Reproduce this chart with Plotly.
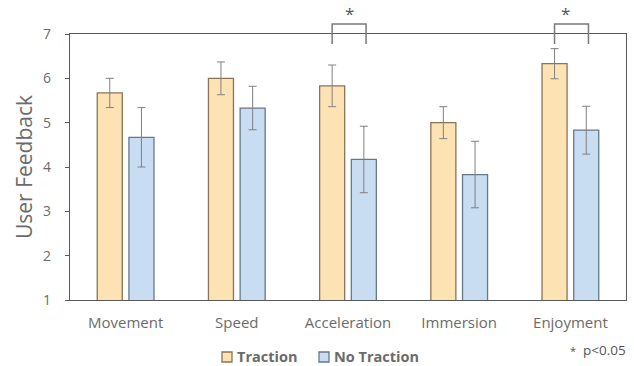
import plotly.graph_objects as go

# Questionnaire results per category (mean score and standard error)
categories = ["Movement", "Speed", "Acceleration", "Immersion", "Enjoyment"]
traction_mean = [5.67, 6.00, 5.83, 5.00, 6.33]
traction_err = [0.33, 0.37, 0.47, 0.36, 0.34]
no_traction_mean = [4.67, 5.33, 4.17, 3.83, 4.83]
no_traction_err = [0.67, 0.49, 0.75, 0.75, 0.54]
significant = ["Acceleration", "Enjoyment"]
y_ticks = [1, 2, 3, 4, 5, 6, 7]

FONT = "Open Sans"
TEXT = "#6b6b6b"
AXIS = "#5a5a5a"
ORANGE_FILL, ORANGE_LINE = "#fde2b4", "#8a7458"
BLUE_FILL, BLUE_LINE = "#c8dcf2", "#66788c"

fig = go.Figure()
fig.add_bar(
    x=categories, y=traction_mean, name="Traction",
    marker=dict(color=ORANGE_FILL, line=dict(color=ORANGE_LINE, width=1.3)),
    error_y=dict(type="data", array=traction_err, color="#808080", thickness=1, width=4),
)
fig.add_bar(
    x=categories, y=no_traction_mean, name="No Traction",
    marker=dict(color=BLUE_FILL, line=dict(color=BLUE_LINE, width=1.3)),
    error_y=dict(type="data", array=no_traction_err, color="#808080", thickness=1, width=4),
)

n = len(categories)
bargap, bargroupgap = 0.43, 0.21
half_slot = (1 - bargap) / 4  # offset of each bar centre from the category centre

# significance brackets above the plot frame
for cat in significant:
    i = categories.index(cat)
    x0 = (i + 0.5 - half_slot) / n
    x1 = (i + 0.5 + half_slot + 0.02) / n
    fig.add_shape(
        type="path", xref="paper", yref="paper",
        path=f"M {x0} 0.962 L {x0} 1.038 L {x1} 1.038 L {x1} 0.962",
        line=dict(color="#7a7a7a", width=1.5),
    )
    fig.add_annotation(
        x=(x0 + x1) / 2, y=1.077, xref="paper", yref="paper", text="*",
        showarrow=False, font=dict(family=FONT, size=17, color="#555555"),
        yanchor="middle",
    )

# legend drawn as swatches + bold labels
legend_items = [("Traction", ORANGE_FILL, ORANGE_LINE, 222),
                ("No Traction", BLUE_FILL, BLUE_LINE, 319)]
W, H = 634, 366
ml, mr, mt, mb = 70, 8, 34, 66
pw, ph = W - ml - mr, H - mt - mb
for label, fill, line, px in legend_items:
    xa = (px - ml) / pw
    xb = (px + 10 - ml) / pw
    yc = (H - mb - 357) / ph
    fig.add_shape(type="rect", xref="paper", yref="paper",
                  x0=xa, x1=xb, y0=yc - 5 / ph, y1=yc + 5 / ph,
                  fillcolor=fill, line=dict(color=line, width=1.3))
    fig.add_annotation(x=xb + 4 / pw, y=(H - mb - 356) / ph, xref="paper", yref="paper",
                       text=f"<b>{label}</b>", showarrow=False,
                       xanchor="left", yanchor="middle", borderpad=0,
                       font=dict(family=FONT, size=14.5, color=TEXT))

fig.add_annotation(x=(627 - ml) / pw, y=(H - mb - 350) / ph, xref="paper", yref="paper",
                   text="<span style='font-size:11px'>*</span>  p<0.05", showarrow=False,
                   xanchor="right", yanchor="middle", borderpad=0,
                   font=dict(family=FONT, size=13.5, color="#555555"))

fig.update_layout(
    width=W, height=H,
    margin=dict(l=ml, r=mr, t=mt, b=mb),
    paper_bgcolor="white", plot_bgcolor="white",
    barmode="group", bargap=bargap, bargroupgap=bargroupgap,
    showlegend=False,
    font=dict(family=FONT, color=TEXT),
    xaxis=dict(
        range=[-0.5, n - 0.5], showline=True, linecolor=AXIS, linewidth=1.3,
        mirror=True, ticks="", ticklabelstandoff=9,
        tickfont=dict(family=FONT, size=15, color=TEXT),
    ),
    yaxis=dict(
        range=[1, 7], tickvals=y_ticks, showgrid=False, zeroline=False,
        showline=True, linecolor=AXIS, linewidth=1.3, mirror=True,
        ticks="outside", ticklen=4, tickcolor=AXIS, ticklabelstandoff=11,
        tickfont=dict(family=FONT, size=14, color=TEXT),
        title=dict(text="User Feedback", standoff=4,
                   font=dict(family=FONT, size=21, color=TEXT)),
    ),
)

fig.write_html("out.html")
